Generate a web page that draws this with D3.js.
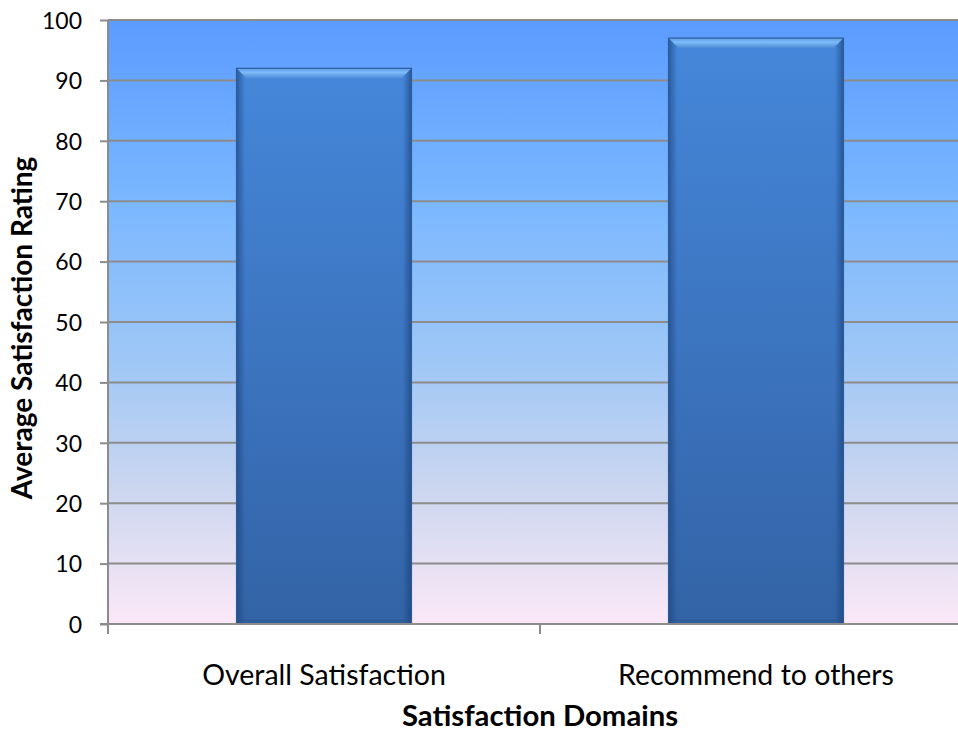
<!DOCTYPE html>
<html><head><meta charset="utf-8">
<script src="https://cdn.jsdelivr.net/npm/d3@7"></script>
<style>html,body{margin:0;padding:0;background:#fff;overflow:hidden}</style>
</head><body>
<svg id="c" width="958" height="731"></svg>
<script>
const categories = ["Overall Satisfaction", "Recommend to others"];
const values = [92, 97];
const yTicks = [0,10,20,30,40,50,60,70,80,90,100];
const yTitle = "Average Satisfaction Rating";
const xTitle = "Satisfaction Domains";

const svg = d3.select("#c");
const L = 108, R = 972, T = 20, B = 624;
const font = "Lato, 'Liberation Sans', sans-serif";

const x = d3.scaleBand().domain(categories).range([L, R]).paddingInner(0.595).paddingOuter(0.2975);
const y = d3.scaleLinear().domain([0, 100]).range([B, T]);

const defs = svg.append("defs");
const bg = defs.append("linearGradient").attr("id","bg").attr("x1",0).attr("y1",0).attr("x2",0).attr("y2",1);
[["0%","#5b9bff"],["30%","#7ab7ff"],["55%","#9cc6f6"],["78%","#ccd6ef"],["100%","#fbe8f7"]].forEach(s=>bg.append("stop").attr("offset",s[0]).attr("stop-color",s[1]));
const bf = defs.append("linearGradient").attr("id","bf").attr("x1",0).attr("y1",0).attr("x2",0).attr("y2",1);
[["0%","#4587da"],["100%","#3363a6"]].forEach(s=>bf.append("stop").attr("offset",s[0]).attr("stop-color",s[1]));
const be = defs.append("linearGradient").attr("id","be").attr("x1",0).attr("y1",0).attr("x2",1).attr("y2",0);
[["0%","#163a70",0.55],["5%","#163a70",0],["95%","#163a70",0],["100%","#163a70",0.6]].forEach(s=>be.append("stop").attr("offset",s[0]).attr("stop-color",s[1]).attr("stop-opacity",s[2]));
const bt = defs.append("linearGradient").attr("id","bt").attr("x1",0).attr("y1",0).attr("x2",0).attr("y2",1);
[["0%","#5a9ae8"],["40%","#7dbcf8"],["100%","#4d8ad8"]].forEach(s=>bt.append("stop").attr("offset",s[0]).attr("stop-color",s[1]));

// plot background
svg.append("rect").attr("x",L).attr("y",T).attr("width",R-L).attr("height",B-T).attr("fill","url(#bg)");

// gridlines
svg.append("g").selectAll("line").data(yTicks.filter(d=>d>0)).join("line")
  .attr("x1",L).attr("x2",R).attr("y1",d=>y(d)).attr("y2",d=>y(d))
  .attr("stroke","#8c8c8c").attr("stroke-width",2);

// bars
const bars = svg.append("g").selectAll("g").data(categories).join("g");
bars.each(function(c,i){
  const g = d3.select(this);
  const x0 = x(c), w = x.bandwidth(), y0 = y(values[i]), h = y(0)-y(values[i]);
  const b = 10;
  g.append("rect").attr("x",x0).attr("y",y0).attr("width",w).attr("height",h).attr("fill","url(#bf)");
  g.append("rect").attr("x",x0).attr("y",y0).attr("width",w).attr("height",h).attr("fill","url(#be)");
  g.append("path").attr("d",`M${x0},${y0}L${x0+w},${y0}L${x0+w-b},${y0+b}L${x0+b},${y0+b}Z`).attr("fill","url(#bt)");
  g.append("path").attr("d",`M${x0},${y0+h}L${x0+w},${y0+h}L${x0+w-5},${y0+h-5}L${x0+5},${y0+h-5}Z`).attr("fill","#2c5790").attr("opacity",0.45);
  g.append("rect").attr("x",x0).attr("y",y0).attr("width",w).attr("height",h).attr("fill","none").attr("stroke","#2e5c98").attr("stroke-width",1.2);
});

// y axis
const ya = d3.axisLeft(y).tickValues(yTicks).tickSize(8).tickPadding(18);
const yg = svg.append("g").attr("transform",`translate(${L},0)`).call(ya);
yg.select(".domain").attr("stroke","#8c8c8c").attr("stroke-width",2).attr("d",`M0,${T}V${B}`);
yg.selectAll(".tick line").attr("stroke","#8c8c8c").attr("stroke-width",2);
yg.selectAll(".tick text").attr("font-family",font).attr("font-size",23).attr("fill","#000").attr("dy","0.36em");

// x axis
const xg = svg.append("g").attr("transform",`translate(0,${B})`);
xg.append("line").attr("x1",L-8).attr("x2",R).attr("y1",0).attr("y2",0).attr("stroke","#8c8c8c").attr("stroke-width",2);
const tickXs = [L, (x(categories[0])+x.bandwidth()+x(categories[1]))/2];
xg.selectAll("line.t").data(tickXs).join("line").attr("class","t")
  .attr("x1",d=>d).attr("x2",d=>d).attr("y1",0).attr("y2",10).attr("stroke","#8c8c8c").attr("stroke-width",2);
xg.selectAll("text").data(categories).join("text")
  .attr("x",d=>x(d)+x.bandwidth()/2).attr("y",61).attr("text-anchor","middle")
  .attr("font-family",font).attr("font-size",28.5).attr("fill","#000").text(d=>d);

// titles
svg.append("text").attr("x",540).attr("y",726).attr("text-anchor","middle")
  .attr("font-family",font).attr("font-weight","bold").attr("font-size",29.3).text(xTitle);
svg.append("text").attr("transform","translate(32,328) rotate(-90)").attr("text-anchor","middle")
  .attr("font-family",font).attr("font-weight","bold").attr("font-size",28).text(yTitle);
</script>
</body></html>
